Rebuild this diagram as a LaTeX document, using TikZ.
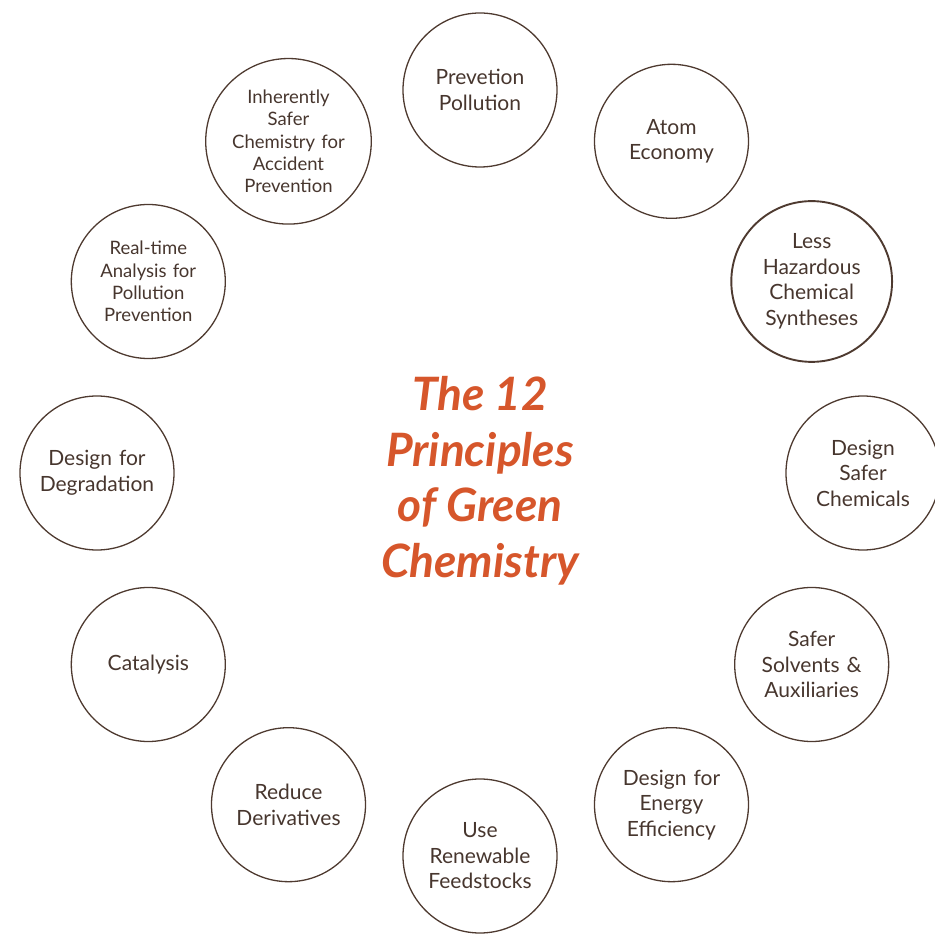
\documentclass[tikz,border=0pt]{standalone}
\usepackage{fontspec}
\setmainfont{Lato}
\definecolor{ringbrown}{HTML}{4E3A30}
\definecolor{textbrown}{HTML}{47362E}
\definecolor{titleorange}{HTML}{D6562B}

\tikzset{
    principle/.style={circle, draw=ringbrown, line width=1.3pt, minimum size=154pt,
        inner sep=0pt, text width=130pt, align=center, text=textbrown,
        font=\fontsize{21}{25.5}\selectfont},
    principlesmall/.style={principle, font=\fontsize{18.5}{22.3}\selectfont},
    principlebold/.style={principle, line width=1.9pt}
}

\begin{document}
\begin{tikzpicture}[x=1pt,y=1pt]
\useasboundingbox (-480,-461) rectangle (455,473);

\node[text=titleorange, align=center, font=\fontsize{46}{55.5}\selectfont\bfseries\itshape] (title) at (0,-8)
    {The 12\\Principles\\of Green\\Chemistry};

% the twelve principles, clockwise from the top
\node[principle]      (p1)  at (90:383)   {Prevetion\\Pollution};
\node[principle]      (p2)  at (60:383)   {Atom\\Economy};
\node[principlebold]  (p3)  at (30:383)   {Less\\Hazardous\\Chemical\\Syntheses};
\node[principle]      (p4)  at (0:383)    {Design\\Safer\\Chemicals};
\node[principle]      (p5)  at (-30:383)  {Safer\\Solvents \&\\Auxiliaries};
\node[principle]      (p6)  at (-60:383)  {Design for\\Energy\\Efficiency};
\node[principle]      (p7)  at (-90:383)  {Use\\Renewable\\Feedstocks};
\node[principle]      (p8)  at (-120:383) {Reduce\\Derivatives};
\node[principle]      (p9)  at (-150:383) {Catalysis};
\node[principle]      (p10) at (180:383)  {Design for\\Degradation};
\node[principlesmall] (p11) at (150:383)  {Real-time\\Analysis for\\Pollution\\Prevention};
\node[principlesmall] (p12) at (120:383)  {Inherently\\Safer\\Chemistry for\\Accident\\Prevention};
\end{tikzpicture}
\end{document}
